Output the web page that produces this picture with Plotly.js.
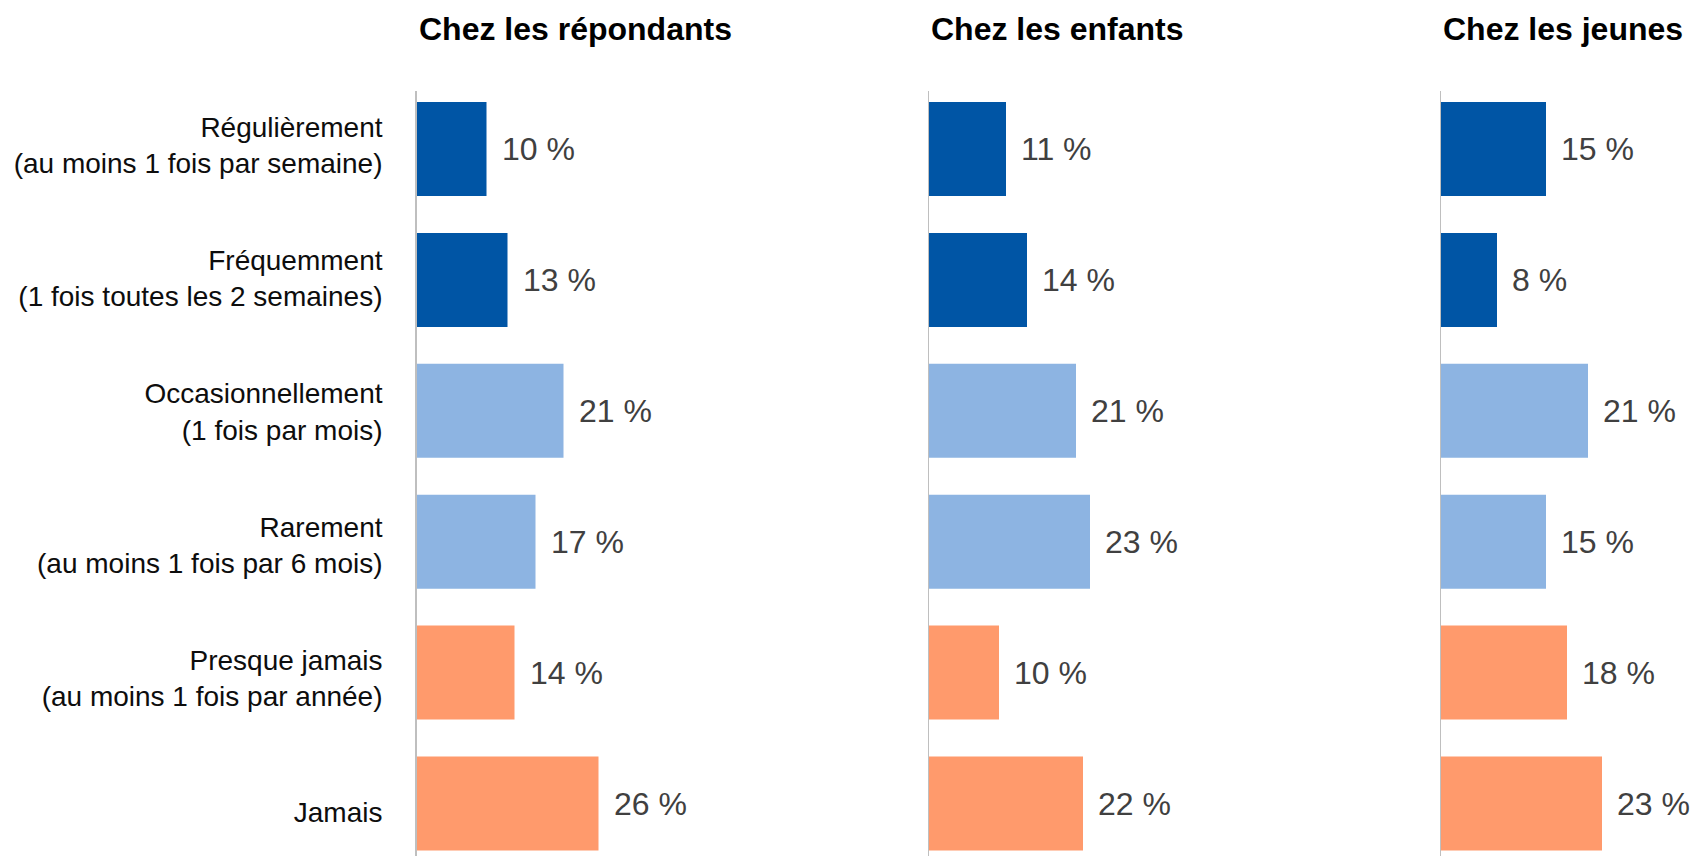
<!DOCTYPE html>
<html>
<head>
<meta charset="utf-8">
<script src="https://cdn.plot.ly/plotly-3.0.1.min.js"></script>
<style>
  html, body { margin: 0; padding: 0; background: #ffffff; }
  #chart { width: 1693px; height: 856px; }
</style>
</head>
<body>
<div id="chart"></div>
<script>
// ---- Data ----
const categoryLines = [
  ["Régulièrement", "(au moins 1 fois par semaine)"],
  ["Fréquemment", "(1 fois toutes les 2 semaines)"],
  ["Occasionnellement", "(1 fois par mois)"],
  ["Rarement", "(au moins 1 fois par 6 mois)"],
  ["Presque jamais", "(au moins 1 fois par année)"],
  ["Jamais"]
];
const panelTitles = ["Chez les répondants", "Chez les enfants", "Chez les jeunes"];
const repondants = [10, 13, 21, 17, 14, 26];
const enfants    = [11, 14, 21, 23, 10, 22];
const jeunes     = [15, 8, 21, 15, 18, 23];
const groupOfCategory = ["frequent", "frequent", "occasional", "occasional", "rare", "rare"];

// ---- Style ----
const groupColors = { frequent: "#0055A5", occasional: "#8DB4E2", rare: "#FF9A6C" };
const W = 1693, H = 856;
const FONT = "Liberation Sans, Arial, sans-serif";
const panelLeftPx = [416.5, 929, 1441];
const panelWidthPx = 210;           // 30 % -> 210 px
const xMax = 30;
const plotTopPx = 91;
const catSpacingPx = 130.9;
const firstCatOffsetPx = 58;
// category labels are spaced slightly wider than the bars in the original
const labelSpacingPx = 133.3;
const firstLabelOffsetPx = 54.2;

const categories = categoryLines.map(l => l.join("<br>"));
const seriesList = [repondants, enfants, jeunes];
const barColors = groupOfCategory.map(g => groupColors[g]);

const yDomTop = (H - plotTopPx) / H;
const plotH = H - plotTopPx;
const yRange = [plotH / catSpacingPx - firstCatOffsetPx / catSpacingPx, -firstCatOffsetPx / catSpacingPx];
const labelRange = [plotH / labelSpacingPx - firstLabelOffsetPx / labelSpacingPx, -firstLabelOffsetPx / labelSpacingPx];

const traces = [];
const annotations = [];
const layout = {
  width: W, height: H,
  margin: { l: 0, r: 0, t: 0, b: 0 },
  paper_bgcolor: "#ffffff",
  plot_bgcolor: "rgba(0,0,0,0)",
  showlegend: false,
  font: { family: FONT, color: "#000000" },
  annotations: annotations
};

seriesList.forEach((vals, i) => {
  const n = i === 0 ? "" : String(i + 1);
  const xa = "x" + n, ya = "y" + n;
  traces.push({
    type: "bar",
    orientation: "h",
    x: vals,
    y: categories,
    xaxis: xa, yaxis: ya,
    width: 0.718,
    marker: { color: barColors, line: { width: 0 } },
    hoverinfo: "skip"
  });
  const d0 = panelLeftPx[i] / W, d1 = (panelLeftPx[i] + panelWidthPx) / W;
  layout["xaxis" + n] = {
    domain: [d0, d1], range: [0, xMax], anchor: ya,
    showgrid: false, zeroline: false, showline: false,
    showticklabels: false, ticks: "", fixedrange: true
  };
  layout["yaxis" + n] = {
    domain: [0, yDomTop], anchor: xa,
    type: "category",
    categoryorder: "array", categoryarray: categories,
    range: yRange,
    showgrid: false, zeroline: false,
    showline: true, linecolor: "#BFBFBF", linewidth: 1.5,
    ticks: "",
    showticklabels: false,
    fixedrange: true
  };
  if (i > 0) layout["yaxis" + n].matches = "y";

  vals.forEach((v, k) => {
    annotations.push({
      xref: xa, yref: ya,
      x: v, y: categories[k],
      text: v + " %",
      showarrow: false,
      xanchor: "left", yanchor: "middle",
      xshift: 13,
      font: { family: FONT, size: 32, color: "#404040" }
    });
  });

  annotations.push({
    xref: "paper", yref: "paper",
    x: d0, y: 1 - 29 / H,
    xanchor: "left", yanchor: "middle",
    text: "<b>" + panelTitles[i] + "</b>",
    showarrow: false,
    font: { family: FONT, size: 32, color: "#000000" }
  });
});

// category labels axis (overlays the first panel); an invisible trace makes it drawn
traces.push({
  type: "scatter", mode: "markers",
  x: categories.map(() => 0),
  y: categories.map((c, k) => k),
  xaxis: "x", yaxis: "y4",
  marker: { opacity: 0, size: 1 },
  hoverinfo: "skip", showlegend: false
});
layout.yaxis4 = {
  domain: [0, yDomTop], anchor: "x", overlaying: "y", side: "left",
  range: labelRange,
  tickmode: "array",
  tickvals: categories.map((c, k) => k),
  ticktext: categories,
  showgrid: false, zeroline: false, showline: false,
  ticks: "",
  ticklabelstandoff: 33,
  tickfont: { family: FONT, size: 28, color: "#0d0d0d" },
  fixedrange: true
};

Plotly.newPlot("chart", traces, layout, { displayModeBar: false, staticPlot: true });
</script>
</body>
</html>
